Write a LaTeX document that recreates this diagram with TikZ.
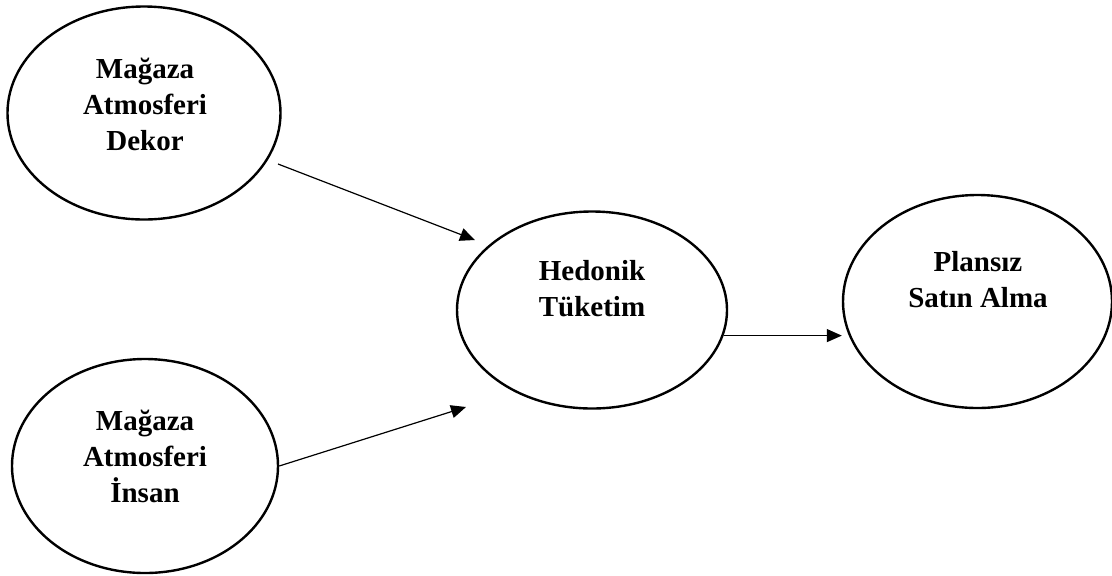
\documentclass[tikz,border=0pt]{standalone}
\usepackage{fontspec}
\setmainfont{Liberation Serif}
\usetikzlibrary{arrows.meta,shapes.geometric,positioning,calc}
\tikzset{
    construct/.style={
        draw=black,
        ellipse,
        line width=1.2pt,
        inner sep=0pt
    },
    caption/.style={
        font=\fontsize{14.5}{18}\selectfont\bfseries,
        align=center,
        inner sep=0pt,
        anchor=base
    },
    arrow/.style={
        -{Triangle[length=7.5pt,width=6.5pt]},
        line width=0.6pt,
        color=black
    }
}

\begin{document}
\begin{tikzpicture}[x=0.5pt, y=-0.5pt]
    \useasboundingbox (0,0) rectangle (1112,575);

    % Constructs
    \node[construct, minimum width=136.5pt, minimum height=106.5pt] (dekor) at (144,113) {};
    \node[construct, minimum width=133pt, minimum height=107pt] (insan) at (145,466) {};
    \node[construct, minimum width=135pt, minimum height=98.5pt] (hedonik) at (592,310) {};
    \node[construct, minimum width=134.5pt, minimum height=106.5pt] (plansiz) at (977.5,301.5) {};

    % Captions
    \node[caption] (dekorText) at (145,150) {Mağaza\\Atmosferi\\Dekor};
    \node[caption] (insanText) at (145,502) {Mağaza\\Atmosferi\\İnsan};
    \node[caption] (hedonikText) at (592,316) {Hedonik\\Tüketim};
    \node[caption] (plansizText) at (978,307) {Plansız\\Satın Alma};

    % Free ends
    \coordinate (dekorOut) at (278,164);
    \coordinate (hedonikInA) at (475,240);
    \coordinate (hedonikInB) at (466,407);

    % Connections
    \draw[arrow] (dekorOut) -- (hedonikInA);
    \draw[arrow] (insan.east) -- (hedonikInB);
    \draw[arrow] (hedonik.-11) -- (hedonik.-11 -| plansiz.west);
\end{tikzpicture}
\end{document}
